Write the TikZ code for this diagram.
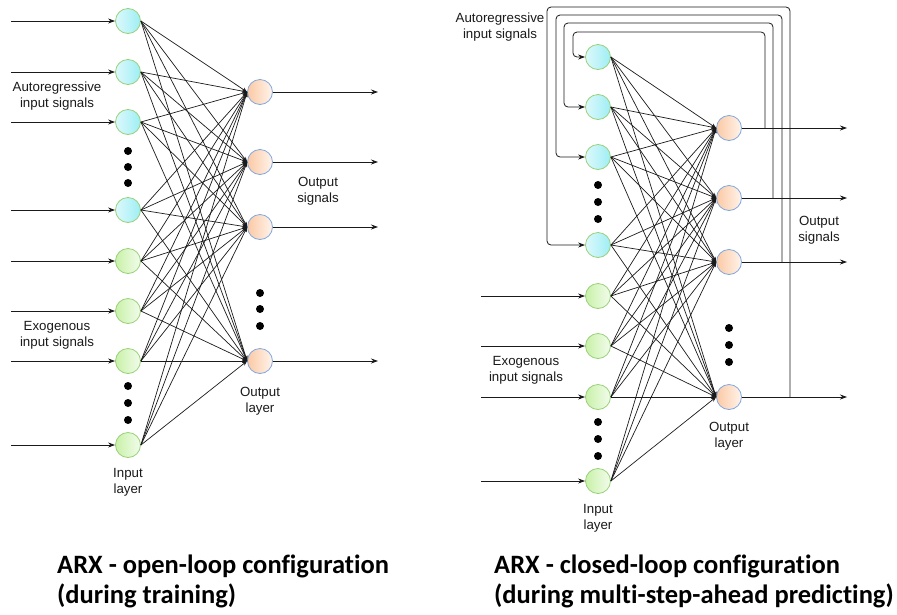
\documentclass[tikz,border=0pt]{standalone}
\usepackage{fontspec}
\setmainfont{Liberation Sans}
\newfontfamily\titlefont[Ligatures=NoCommon]{Carlito}
\usetikzlibrary{arrows.meta}

\definecolor{arL}{HTML}{DDF9FC}
\definecolor{arR}{HTML}{9EEEF4}
\definecolor{exL}{HTML}{C8F1A8}
\definecolor{exR}{HTML}{F2FCEC}
\definecolor{ouL}{HTML}{FBC9A4}
\definecolor{ouR}{HTML}{FFF4EC}
\definecolor{grB}{HTML}{97D077}
\definecolor{blB}{HTML}{7EA6E0}
\definecolor{ink}{HTML}{1A1A1A}

\tikzset{
  neuron/.style={circle, minimum size=25pt, inner sep=0pt, line width=0.8pt},
  arnode/.style={neuron, draw=grB, left color=arL, right color=arR},
  exnode/.style={neuron, draw=grB, left color=exL, right color=exR},
  outnode/.style={neuron, draw=blB, left color=ouL, right color=ouR},
  weight/.style={draw=ink, line width=0.7pt, -{Stealth[length=5pt,width=4pt]}},
  signal/.style={draw=ink, line width=0.8pt, -{Stealth[length=7pt,width=5pt]}},
  feedback/.style={draw=ink, line width=0.8pt, rounded corners=4pt, -{Stealth[length=7pt,width=5pt]}},
  lbl/.style={font=\fontsize{13.3}{16}\selectfont, align=center, text=ink, inner sep=0pt},
  title/.style={font=\titlefont\bfseries\fontsize{26.5}{30}\selectfont, anchor=base west, inner sep=0pt, text=black},
  dotmark/.style={fill=black}
}

\begin{document}
\begin{tikzpicture}[x=1pt, y=-1pt]
\useasboundingbox (0,0) rectangle (897,614);

% ---------------- open-loop network ----------------
\foreach \i/\y in {1/21, 2/72, 3/122, 4/210}
  \node[arnode] (L\i) at (128,\y) {};
\foreach \i/\y in {5/261, 6/311, 7/361, 8/445}
  \node[exnode] (L\i) at (128,\y) {};
\foreach \j/\y in {1/92, 2/162, 3/227, 4/361}
  \node[outnode] (LO\j) at (260,\y) {};

\foreach \i in {1,...,8}
  \foreach \j in {1,...,4}
    \draw[weight] (L\i.east) -- (LO\j.west);

\coordinate (lin) at (11,0);
\coordinate (lout) at (378,0);
\foreach \i in {1,...,8}
  \draw[signal] (lin |- L\i.west) -- (L\i.west);
\foreach \j in {1,...,4}
  \draw[signal] (LO\j.east) -- (lout |- LO\j.east);

\foreach \y in {151,167,183,386,403,420}
  \fill[dotmark] (128,\y) circle[radius=4pt];
\foreach \y in {293,309,326}
  \fill[dotmark] (260,\y) circle[radius=4pt];

\node[lbl] (lar) at (57,96) {Autoregressive\\input signals};
\node[lbl] (lex) at (57,335) {Exogenous\\input signals};
\node[lbl] (los) at (318,191) {Output\\signals};
\node[lbl] (lol) at (260,401) {Output\\layer};
\node[lbl] (lil) at (128,482) {Input\\layer};

% ---------------- closed-loop network ----------------
\foreach \i/\y in {1/57, 2/107, 3/157, 4/245}
  \node[arnode] (R\i) at (598,\y) {};
\foreach \i/\y in {5/296, 6/346, 7/397, 8/481}
  \node[exnode] (R\i) at (598,\y) {};
\foreach \j/\y in {1/128, 2/198, 3/262, 4/397}
  \node[outnode] (RO\j) at (729,\y) {};

\foreach \i in {1,...,8}
  \foreach \j in {1,...,4}
    \draw[weight] (R\i.east) -- (RO\j.west);

\coordinate (rin) at (481,0);
\coordinate (rout) at (847,0);
\foreach \i in {5,...,8}
  \draw[signal] (rin |- R\i.west) -- (R\i.west);
\foreach \j in {1,...,4}
  \draw[signal] (RO\j.east) -- (rout |- RO\j.east);

% outputs fed back as autoregressive inputs
\foreach \j/\tx/\ty/\lx in {1/765/32/573, 2/773/23/564, 3/782/15/556, 4/790/7/547} {
  \coordinate (T\j) at (\tx,0);
  \draw[feedback] (T\j |- RO\j.east) |- (\lx,\ty) |- (R\j.west);
}

\foreach \y in {185,202,219,422,439,456}
  \fill[dotmark] (598,\y) circle[radius=4pt];
\foreach \y in {328,345,362}
  \fill[dotmark] (729,\y) circle[radius=4pt];

\node[lbl] (rar) at (500,27) {Autoregressive\\input signals};
\node[lbl] (rex) at (526,370) {Exogenous\\input signals};
\node[lbl] (ros) at (819,230) {Output\\signals};
\node[lbl] (rol) at (729,436) {Output\\layer};
\node[lbl] (ril) at (598,518) {Input\\layer};

% ---------------- captions ----------------
\node[title] (t1a) at (57,573) {ARX - open-loop configuration};
\node[title] (t1b) at (57,603) {(during training)};
\node[title] (t2a) at (494,573) {ARX - closed-loop configuration};
\node[title] (t2b) at (494,603) {(during multi-step-ahead predicting)};
\end{tikzpicture}
\end{document}
